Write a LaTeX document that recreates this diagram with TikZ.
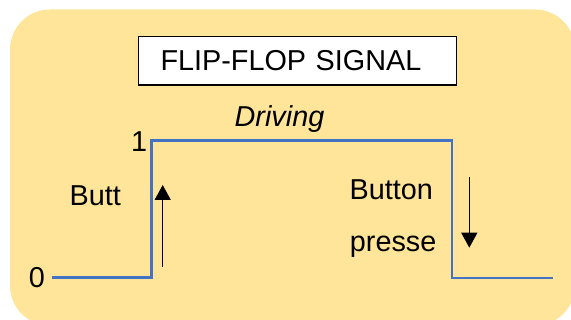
\documentclass[tikz,border=0pt]{standalone}
\usepackage{fontspec}
\setmainfont{Liberation Sans}
\usetikzlibrary{arrows.meta}
\definecolor{panelyellow}{RGB}{255,229,153}
\definecolor{signalblue}{RGB}{68,114,196}
\newcommand\labelsize{\fontsize{28.8}{34}\selectfont}
\tikzset{
  lbl/.style={inner sep=0pt, anchor=base west, font=\labelsize},
  titlebox/.style={draw=black, line width=1.2pt, fill=white, minimum width=318.4pt,
    minimum height=48.3pt, inner sep=0pt, text width=274pt, align=left,
    font=\labelsize},
  signal/.style={draw=signalblue, line width=2.7pt},
  motion/.style={draw=black, line width=1.3pt, -{Triangle[width=16pt,length=15pt]}}
}
\begin{document}
\begin{tikzpicture}[x=1pt,y=-1pt]
  \clip (0,0) rectangle (571,320);
  % rounded panel
  \fill[panelyellow, rounded corners=40pt] (10,9.5) rectangle (575,325.6);

  % heading
  \node[titlebox] (title) at (297.5,60.9) {FLIP-FLOP SIGNAL};

  % labels
  \node[lbl, font=\labelsize\itshape] (driving) at (234.5,126.5) {Driving};
  \node[lbl] (one) at (131,151.7) {1};
  \node[lbl] (zero) at (28.6,287.3) {0};
  \node[lbl] (butt) at (69.5,206) {Butt};
  \node[lbl] (button) at (349.5,200) {Button};
  \node[lbl] (presse) at (349.7,251.7) {presse};

  % signal corners
  \coordinate (s0) at (51.7,277.7);
  \coordinate (s1) at (151.7,277.7);
  \coordinate (s2) at (151.7,140.5);
  \coordinate (s3) at (452,140.5);
  \coordinate (s4) at (452,278);
  \coordinate (s5) at (553.3,278);
  \draw[signal, line join=miter] (s0) -- (s1) -- (s2) -- (s3) -- (s4) -- (s5);

  % press / release arrows
  \coordinate (upfrom) at (162.7,266.7);
  \coordinate (upto) at (162.7,185);
  \coordinate (downfrom) at (469.3,177);
  \coordinate (downto) at (469.3,247.7);
  \draw[motion] (upfrom) -- (upto);
  \draw[motion] (downfrom) -- (downto);
\end{tikzpicture}
\end{document}
